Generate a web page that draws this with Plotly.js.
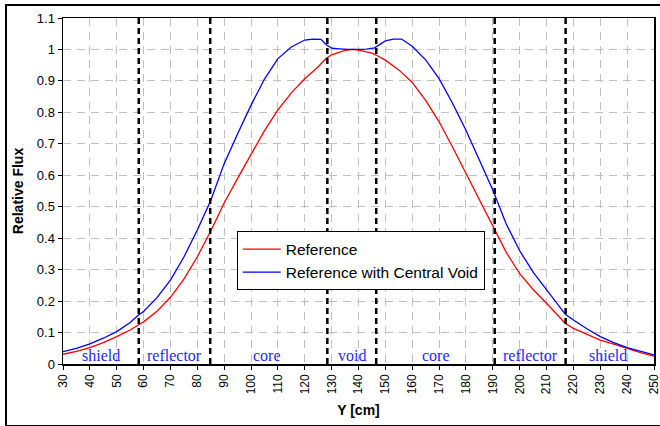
<!DOCTYPE html>
<html>
<head>
<meta charset="utf-8">
<script src="https://cdn.plot.ly/plotly-3.0.1.min.js"></script>
<style>
  html, body { margin: 0; padding: 0; background: #fff; }
  #wrap { position: relative; width: 660px; height: 426px; }
  #chart { position: absolute; left: 0; top: 0; width: 660px; height: 426px; }
  #frame { position: absolute; left: 5px; top: 4px; width: 660px; height: 419px;
           border-left: 2px solid #000; border-top: 2px solid #000; border-bottom: 2px solid #000;
           pointer-events: none; }
</style>
</head>
<body>
<div id="wrap">
  <div id="chart"></div>
  <div id="frame"></div>
</div>
<script>
// ---- data ----
const refX = [30,35,40,45,50,55,58,60,65,70,75,80,85,90,95,100,105,110,115,120,125,128,130,135,138,140,145,147,150,155,160,165,170,175,180,185,190,195,200,205,210,215,217,220,225,230,235,240,245,250];
const refY = [0.031,0.040,0.052,0.068,0.087,0.108,0.124,0.134,0.168,0.212,0.270,0.341,0.423,0.512,0.590,0.664,0.742,0.808,0.862,0.907,0.945,0.972,0.983,0.997,1.000,0.998,0.988,0.980,0.966,0.935,0.895,0.838,0.770,0.690,0.606,0.522,0.437,0.355,0.287,0.237,0.193,0.145,0.129,0.113,0.094,0.076,0.063,0.049,0.036,0.025];

const voidX = [30,35,40,45,50,55,58,60,65,70,75,80,85,90,95,100,105,110,115,120,123,126,128,130,133,136,140,143,146,147,150,153,156,160,165,170,175,180,185,190,195,200,205,210,215,217,220,225,230,235,240,245,250];
const voidY = [0.039,0.050,0.064,0.082,0.103,0.132,0.155,0.167,0.211,0.267,0.340,0.426,0.520,0.637,0.732,0.823,0.906,0.971,1.008,1.030,1.033,1.032,1.015,1.004,1.002,1.000,1.000,1.001,1.005,1.010,1.027,1.033,1.033,1.010,0.967,0.907,0.829,0.743,0.649,0.553,0.445,0.360,0.292,0.235,0.177,0.158,0.140,0.112,0.087,0.068,0.052,0.040,0.029];

const boundaries = [58.2, 84.8, 128.4, 146.6, 190.7, 217.1];
const regionNames = ["shield","reflector","core","void","core","reflector","shield"];
const regionCenters = [44, 71.5, 106, 137.5, 169, 204, 233];

const seriesNames = ["Reference", "Reference with Central Void"];
const xTitle = "Y [cm]";
const yTitle = "Relative Flux";

// ---- traces ----
const traces = [
  { x: refX, y: refY, type: 'scatter', mode: 'lines', name: seriesNames[0],
    line: { color: '#ff0000', width: 1.3 } },
  { x: voidX, y: voidY, type: 'scatter', mode: 'lines', name: seriesNames[1],
    line: { color: '#0000ff', width: 1.3 } }
];

const shapes = boundaries.map(b => ({
  type: 'line', xref: 'x', yref: 'y', x0: b, x1: b, y0: 0, y1: 1.1,
  line: { color: '#000', width: 2.5, dash: '6px,4px' }
}));

const annotations = regionNames.map((n, i) => ({
  x: regionCenters[i], y: 0.028, xref: 'x', yref: 'y', text: n, showarrow: false,
  font: { family: 'Liberation Serif, Times New Roman, serif', size: 16, color: '#2828ff' },
  xanchor: 'center', yanchor: 'middle'
}));

const axisFont = { family: 'Liberation Sans, Arial, sans-serif', size: 13, color: '#000' };
const xTickFont = { family: 'Liberation Sans, Arial, sans-serif', size: 12, color: '#000' };

const layout = {
  width: 660, height: 426,
  margin: { l: 63, r: 6, t: 18, b: 62 },
  paper_bgcolor: 'rgba(0,0,0,0)', plot_bgcolor: '#fff',
  font: axisFont,
  showlegend: true,
  legend: {
    x: 0.294, y: 0.383, xanchor: 'left', yanchor: 'top',
    bgcolor: '#fff', bordercolor: '#000', borderwidth: 1,
    font: { family: 'Liberation Sans, Arial, sans-serif', size: 15.5, color: '#000' },
    itemwidth: 38
  },
  xaxis: {
    range: [30, 250], dtick: 10, tick0: 30, tickangle: -90,
    showgrid: true, gridcolor: '#c0c0c0', griddash: '8px,6px', gridwidth: 1,
    showline: true, linecolor: '#000', linewidth: 1.5, mirror: true,
    ticks: 'outside', ticklen: 4, tickcolor: '#000',
    tickfont: xTickFont, zeroline: false, automargin: false, ticklabeloverflow: 'allow',
    title: { text: xTitle, font: { family: 'Liberation Sans, Arial, sans-serif', size: 14, color: '#000', weight: 'bold' }, standoff: 12 }
  },
  yaxis: {
    range: [0, 1.1], dtick: 0.1, tick0: 0,
    showgrid: true, gridcolor: '#c0c0c0', griddash: '8px,6px', gridwidth: 1,
    showline: true, linecolor: '#000', linewidth: 1.5, mirror: true,
    ticks: 'outside', ticklen: 4, tickcolor: '#000',
    tickfont: axisFont, zeroline: false, automargin: false, ticklabeloverflow: 'allow',
    title: { text: yTitle, font: { family: 'Liberation Sans, Arial, sans-serif', size: 14, color: '#000', weight: 'bold' }, standoff: 10 }
  },
  shapes: shapes,
  annotations: annotations
};

Plotly.newPlot('chart', traces, layout, { staticPlot: true, displayModeBar: false });
</script>
</body>
</html>
